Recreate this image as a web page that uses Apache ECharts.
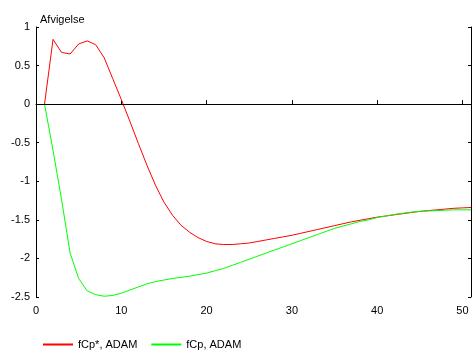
<!DOCTYPE html>
<html><head><meta charset="utf-8">
<script src="https://cdn.jsdelivr.net/npm/echarts@6/dist/echarts.min.js"></script>
<style>html,body{margin:0;padding:0;background:#fff}#c{width:473px;height:351px}</style>
</head><body><div id="c"></div>
<script>
const xValues = [1,2,3,4,5,6,7,8,9,10,11,12,13,14,15,16,17,18,19,20,21,22,23,24,25,26,27,28,29,30,31,32,33,34,35,36,37,38,39,40,41,42,43,44,45,46,47,48,49,50,51];
const fCpStar = [0,0.84,0.67,0.65,0.78,0.82,0.77,0.60,0.33,0.06,-0.22,-0.51,-0.79,-1.05,-1.27,-1.44,-1.57,-1.66,-1.73,-1.78,-1.81,-1.82,-1.82,-1.81,-1.80,-1.78,-1.76,-1.74,-1.72,-1.70,-1.675,-1.65,-1.625,-1.60,-1.575,-1.55,-1.525,-1.505,-1.485,-1.465,-1.45,-1.435,-1.42,-1.405,-1.39,-1.38,-1.37,-1.36,-1.35,-1.345,-1.34];
const fCp = [0,-0.6,-1.24,-1.93,-2.26,-2.42,-2.47,-2.49,-2.48,-2.45,-2.41,-2.37,-2.33,-2.30,-2.28,-2.26,-2.245,-2.23,-2.21,-2.19,-2.16,-2.13,-2.09,-2.05,-2.01,-1.97,-1.93,-1.89,-1.85,-1.81,-1.77,-1.73,-1.69,-1.65,-1.61,-1.58,-1.55,-1.52,-1.50,-1.47,-1.45,-1.43,-1.415,-1.40,-1.39,-1.385,-1.38,-1.375,-1.37,-1.37,-1.37];
const seriesNames = ['fCp*, ADAM', 'fCp, ADAM'];
const yTitle = 'Afvigelse';

const font = 'Liberation Sans, Arial, sans-serif';
const chart = echarts.init(document.getElementById('c'));
const pairs = arr => xValues.map((x, i) => [x, arr[i]]);
chart.setOption({
  animation: false,
  textStyle: {fontFamily: font},
  grid: {left: 36, right: 2, top: 27, bottom: 54, containLabel: false},
  title: {text: yTitle, left: 35, top: 9, textStyle: {fontFamily: font, fontSize: 11, fontWeight: 'normal', color: '#000'}},
  legend: {
    left: 38, top: 334, itemWidth: 30, itemHeight: 2, itemGap: 14, icon: 'rect',
    textStyle: {fontFamily: font, fontSize: 11, color: '#000'},
    data: seriesNames
  },
  xAxis: {
    type: 'value', min: 0, max: 51, interval: 10,
    axisLine: {lineStyle: {color: '#000', width: 1}},
    axisTick: {inside: true, length: 4, lineStyle: {color: '#000'}},
    axisLabel: {showMaxLabel: false, color: '#000', fontSize: 11, fontFamily: font, margin: 8},
    splitLine: {show: false}
  },
  yAxis: [{
    type: 'value', min: -2.5, max: 1, interval: 0.5,
    axisLine: {show: true, lineStyle: {color: '#000', width: 1}},
    axisTick: {show: true, inside: true, length: 3, lineStyle: {color: '#000'}},
    axisLabel: {color: '#000', fontSize: 11, fontFamily: font, margin: 6},
    splitLine: {show: false}
  }, {
    type: 'value', position: 'right', min: -2.5, max: 1, interval: 0.5,
    axisLine: {show: true, lineStyle: {color: '#000', width: 1}},
    axisTick: {show: true, inside: true, length: 3, lineStyle: {color: '#000'}},
    axisLabel: {show: false},
    splitLine: {show: false}
  }],
  series: [{
    name: seriesNames[0], type: 'line', data: pairs(fCpStar), showSymbol: false, symbol: 'none',
    lineStyle: {color: '#ff0000', width: 1}, itemStyle: {color: '#ff0000'}, z: 3,
    markLine: {silent: true, symbol: 'none', label: {show: false},
      lineStyle: {color: '#000', width: 1, type: 'solid'}, data: [{yAxis: 0}]}
  }, {
    name: seriesNames[1], type: 'line', data: pairs(fCp), showSymbol: false, symbol: 'none',
    lineStyle: {color: '#00ff00', width: 1}, itemStyle: {color: '#00ff00'}, z: 3
  }]
});
</script></body></html>
